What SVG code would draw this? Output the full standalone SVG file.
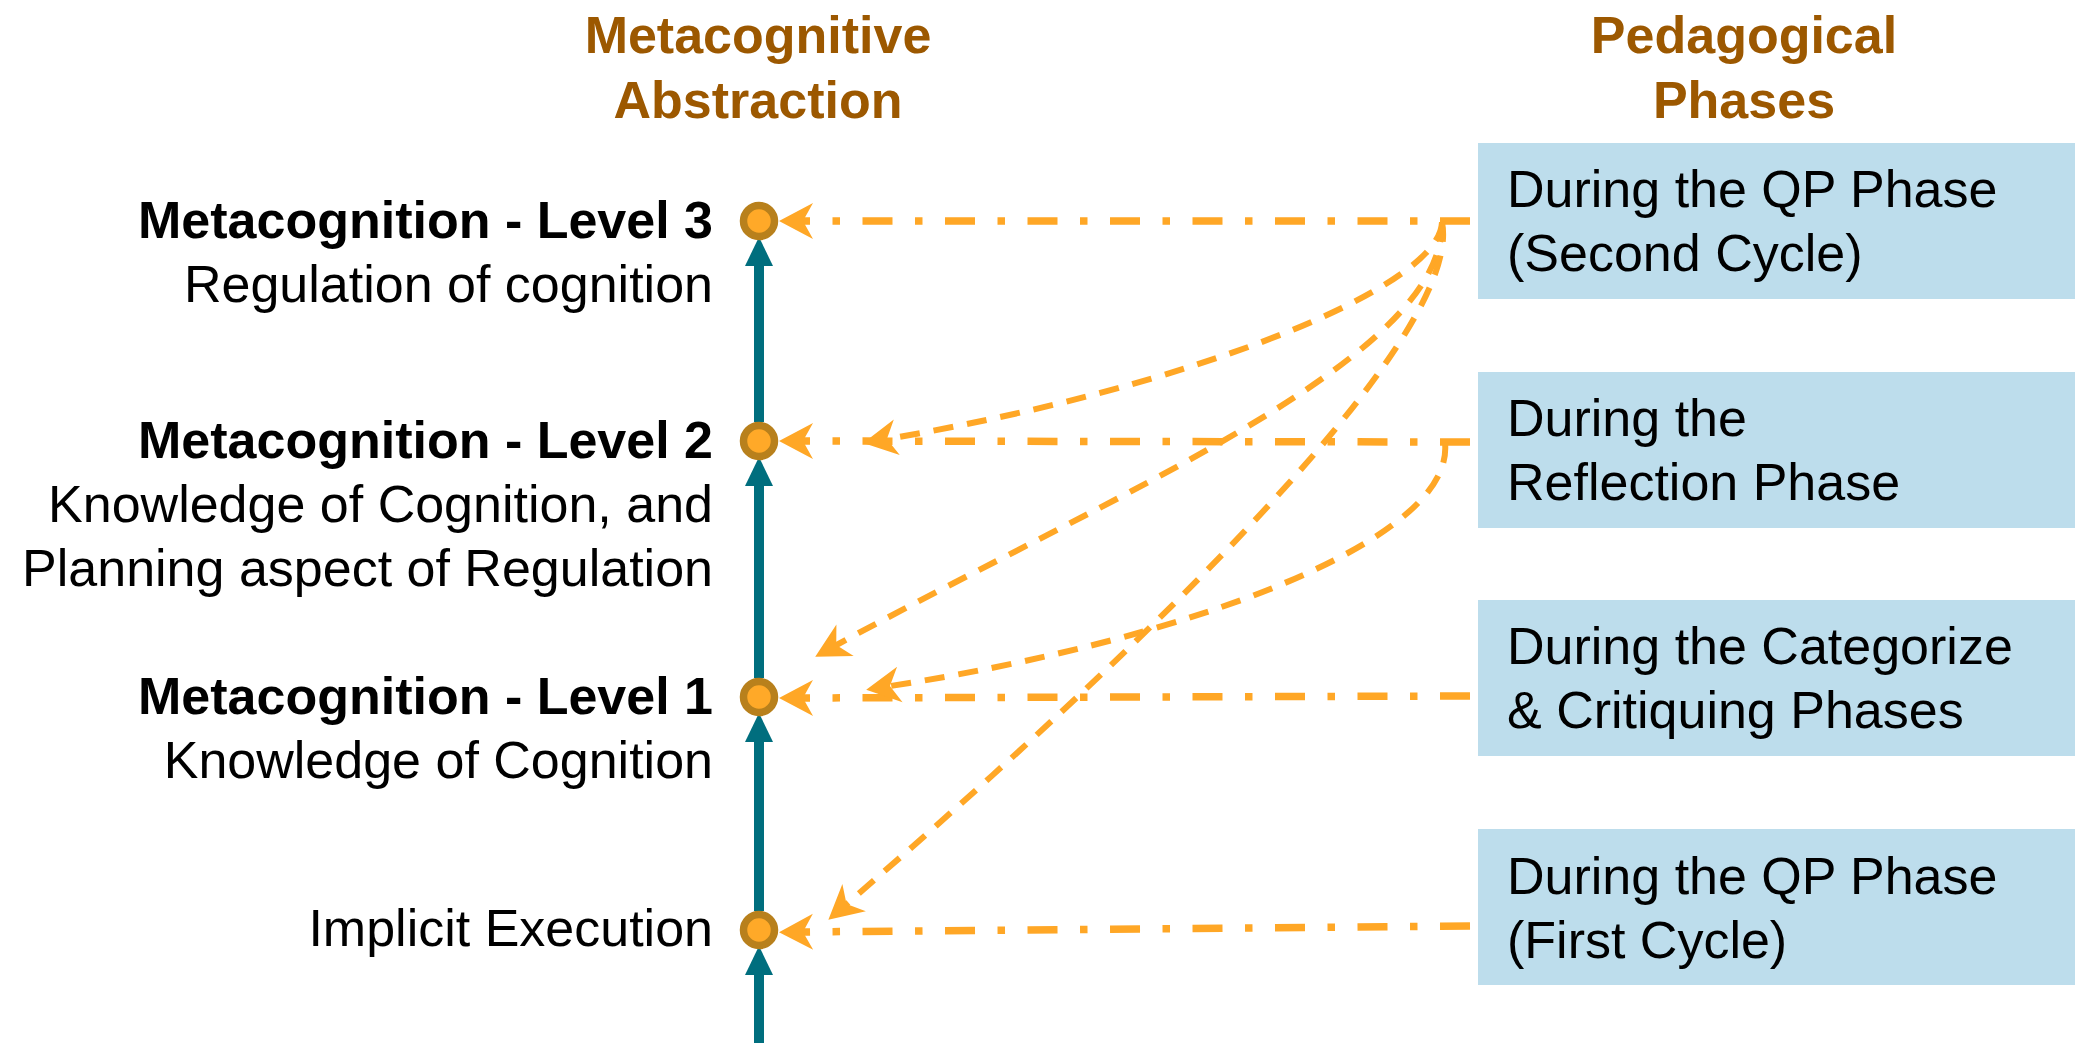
<svg xmlns="http://www.w3.org/2000/svg" width="2075" height="1052" viewBox="0 0 2075 1052">
<style>
  text { font-family: "Liberation Sans", Arial, sans-serif; }
  .title { font-size: 52px; font-weight: bold; fill: #9C5800; text-anchor: middle; }
  .lbl { font-size: 52px; fill: #000; text-anchor: end; }
  .lblb { font-size: 52px; font-weight: bold; fill: #000; text-anchor: end; }
  .btxt { font-size: 52px; fill: #000; }
  .box { fill: #BDDDEC; }
  .axis { stroke: #006E7E; stroke-width: 10; fill: none; }
  .dd { stroke: #FFA726; stroke-width: 7.5; fill: none; stroke-dasharray: 30 22.5 7.5 22.5; }
  .dash { stroke: #FFA726; stroke-width: 6; fill: none; stroke-dasharray: 20 14; }
  .dot { fill: #FFA928; stroke: #B8801C; stroke-width: 7.5; }
</style>
<defs>
  <marker id="tealHead" markerUnits="userSpaceOnUse" viewBox="-20 -20 40 40" markerWidth="40" markerHeight="40" refX="0" refY="0" orient="auto" overflow="visible">
    <path d="M-14,-14 L15,0 L-14,14 Z" fill="#006E7E"/>
  </marker>
  <marker id="orHead" markerUnits="userSpaceOnUse" viewBox="-20 -20 40 40" markerWidth="40" markerHeight="40" refX="0" refY="0" orient="auto" overflow="visible">
    <path d="M18,0 L-16,-18 L-6,0 L-16,18 Z" fill="#FFA726"/>
  </marker>
</defs>
<rect width="2075" height="1052" fill="#FFFFFF"/>

<g id="titles">
  <text class="title" x="758" y="53">Metacognitive</text>
  <text class="title" x="758" y="118">Abstraction</text>
  <text class="title" x="1744" y="53">Pedagogical</text>
  <text class="title" x="1744" y="118">Phases</text>
</g>

<g id="axis">
  <path class="axis" d="M759,1043 V961" marker-end="url(#tealHead)"/>
  <path class="axis" d="M759,911 V728" marker-end="url(#tealHead)"/>
  <path class="axis" d="M759,678 V472" marker-end="url(#tealHead)"/>
  <path class="axis" d="M759,422 V252" marker-end="url(#tealHead)"/>
</g>

<g id="connectors">
  <path class="dd" d="M1470,221 L797,221" marker-end="url(#orHead)"/>
  <path class="dd" d="M1470,442 L797,441" marker-end="url(#orHead)"/>
  <path class="dd" d="M1470,696 L797,698" marker-end="url(#orHead)"/>
  <path class="dd" d="M1470,926 L797,932" marker-end="url(#orHead)"/>
  <path class="dash" d="M1442,222 C1440,290 1180,390 881,440" marker-end="url(#orHead)"/>
  <path class="dash" d="M1442,222 C1445,360 1120,490 831,648" marker-end="url(#orHead)"/>
  <path class="dash" d="M1442,222 C1465,340 1130,660 842,908" marker-end="url(#orHead)"/>
  <path class="dash" d="M1445,443 C1455,540 1190,640 884,687" marker-end="url(#orHead)"/>
</g>

<g id="level3">
  <ellipse class="dot" cx="759" cy="221" rx="15.5" ry="15.5"/>
  <text class="lblb" x="713" y="238">Metacognition - Level 3</text>
  <text class="lbl" x="713" y="302">Regulation of cognition</text>
</g>
<g id="level2">
  <ellipse class="dot" cx="759" cy="441" rx="15.5" ry="15.5"/>
  <text class="lblb" x="713" y="458">Metacognition - Level 2</text>
  <text class="lbl" x="713" y="522">Knowledge of Cognition, and</text>
  <text class="lbl" x="713" y="586">Planning aspect of Regulation</text>
</g>
<g id="level1">
  <ellipse class="dot" cx="759" cy="697" rx="15.5" ry="15.5"/>
  <text class="lblb" x="713" y="714">Metacognition - Level 1</text>
  <text class="lbl" x="713" y="778">Knowledge of Cognition</text>
</g>
<g id="implicit">
  <ellipse class="dot" cx="759" cy="930" rx="15.5" ry="15.5"/>
  <text class="lbl" x="713" y="946">Implicit Execution</text>
</g>

<g id="phase-qp2">
  <rect class="box" x="1478" y="143" width="597" height="156"/>
  <text class="btxt" x="1507" y="207">During the QP Phase</text>
  <text class="btxt" x="1507" y="271">(Second Cycle)</text>
</g>
<g id="phase-reflection">
  <rect class="box" x="1478" y="372" width="597" height="156"/>
  <text class="btxt" x="1507" y="436">During the</text>
  <text class="btxt" x="1507" y="500">Reflection Phase</text>
</g>
<g id="phase-categorize">
  <rect class="box" x="1478" y="600" width="597" height="156"/>
  <text class="btxt" x="1507" y="664">During the Categorize</text>
  <text class="btxt" x="1507" y="728">&amp; Critiquing Phases</text>
</g>
<g id="phase-qp1">
  <rect class="box" x="1478" y="829" width="597" height="156"/>
  <text class="btxt" x="1507" y="894">During the QP Phase</text>
  <text class="btxt" x="1507" y="958">(First Cycle)</text>
</g>
</svg>
